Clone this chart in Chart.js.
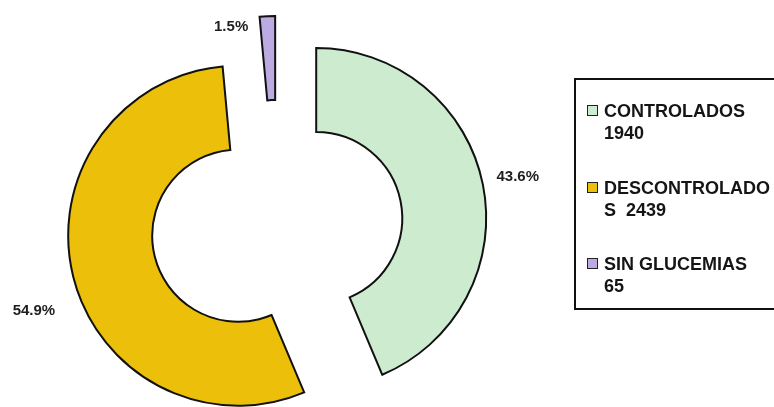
<!DOCTYPE html>
<html>
<head>
<meta charset="utf-8">
<script src="https://cdn.jsdelivr.net/npm/chart.js@4/dist/chart.umd.min.js"></script>
<style>
    html, body { margin: 0; padding: 0; background: #fff; }
    #wrap { position: relative; width: 774px; height: 407px; overflow: hidden; }
    #legend {
        position: absolute; left: 574px; top: 78px; width: 240px; height: 232px;
        border: 2px solid #111; box-sizing: border-box;
        font-family: "Liberation Sans", Arial, sans-serif; font-weight: bold; font-size: 18px;
        color: #151515;
    }
    .item { position: absolute; left: 28px; line-height: 22px; }
    .box {
        position: absolute; left: -17px; top: 5px; width: 9px; height: 9px;
        border: 1px solid #222;
    }
</style>
</head>
<body>
<div id="wrap">
    <canvas id="pieChart" width="774" height="407"></canvas>
    <div id="legend"></div>
</div>
<script>
    const labels = ["CONTROLADOS", "DESCONTROLADOS", "SIN GLUCEMIAS"];
    const legendLines = [["CONTROLADOS", "1940"], ["DESCONTROLADO", "S\u00a0\u00a02439"], ["SIN GLUCEMIAS", "65"]];
    const values = [1940, 2439, 65];
    // percentages as printed on the chart
    const percentText = ["43.6%", "54.9%", "1.5%"];
    const colors = ["#cdeccf", "#ecbf0a", "#bcaae2"];

    // explode distance and label placement (angle tweak in degrees, distance from slice centre)
    const explode = 40;
    const labelAngle = [-1.6, -8.4, -7];
    const labelDist = [185, 198, 161];

    // build html legend from data
    const legend = document.getElementById("legend");
    const tops = [20, 97, 173];
    legendLines.forEach((lines, i) => {
        const div = document.createElement("div");
        div.className = "item";
        div.style.top = tops[i] + "px";
        div.innerHTML = '<span class="box" style="background:' + colors[i] + '"></span>' + lines.join("<br>");
        legend.appendChild(div);
    });

    // shift every slice outward along its middle angle
    const explodePlugin = {
        id: "explode",
        afterUpdate(chart) {
            chart.getDatasetMeta(0).data.forEach(arc => {
                const mid = (arc.startAngle + arc.endAngle) / 2;
                arc.x += Math.cos(mid) * explode;
                arc.y += Math.sin(mid) * explode;
            });
        }
    };

    const percentPlugin = {
        id: "percentLabels",
        afterDatasetsDraw(chart) {
            const ctx = chart.ctx;
            ctx.save();
            ctx.font = "bold 15px 'Liberation Sans', Arial, sans-serif";
            ctx.fillStyle = "#1e1e1e";
            ctx.textBaseline = "middle";
            chart.getDatasetMeta(0).data.forEach((arc, i) => {
                const a = (arc.startAngle + arc.endAngle) / 2 + labelAngle[i] * Math.PI / 180;
                const x = arc.x + Math.cos(a) * labelDist[i];
                const y = arc.y + Math.sin(a) * labelDist[i];
                ctx.textAlign = x < arc.x ? "right" : "left";
                ctx.fillText(percentText[i], x, y);
            });
            ctx.restore();
        }
    };

    const pie = document.getElementById("pieChart").getContext("2d");
    new Chart(pie, {
        type: "doughnut",
        data: {
            labels: labels,
            datasets: [{
                data: values,
                backgroundColor: colors,
                borderColor: "#111",
                borderWidth: 2,
                borderJoinStyle: "miter"
            }]
        },
        options: {
            responsive: false,
            animation: false,
            radius: 170,
            cutout: "50.6%",
            layout: { padding: { left: 0, right: 220, top: 45, bottom: 0 } },
            plugins: {
                legend: { display: false },
                tooltip: { enabled: false }
            }
        },
        plugins: [explodePlugin, percentPlugin]
    });
</script>
</body>
</html>
